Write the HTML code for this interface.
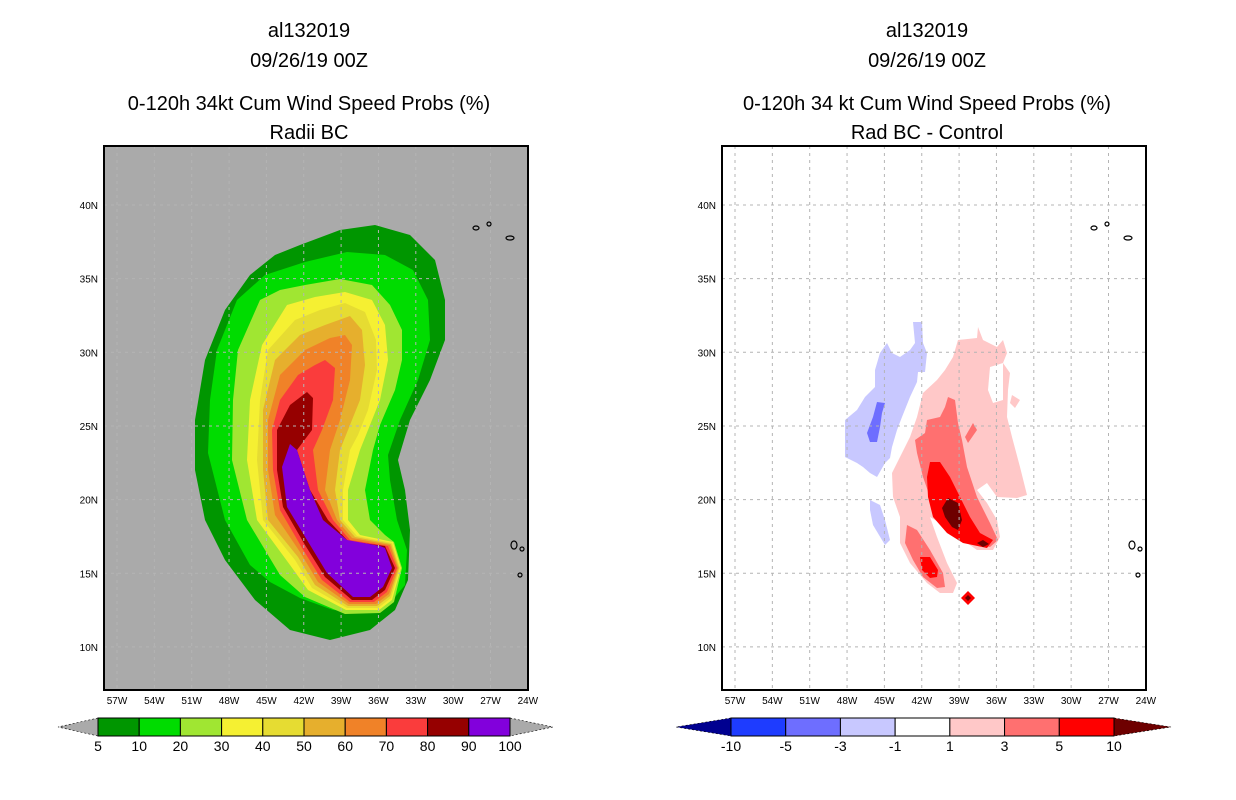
<!DOCTYPE html>
<html><head><meta charset="utf-8"><style>
body{margin:0;background:#fff;width:1236px;height:800px;overflow:hidden}
svg{display:block}
text{font-family:"Liberation Sans",sans-serif}
</style></head><body>
<svg id="s" width="1236" height="800" xmlns="http://www.w3.org/2000/svg">
<g font-size="20" text-anchor="middle" fill="#000">
<text x="309" y="37">al132019</text><text x="309" y="67">09/26/19 00Z</text>
<text x="309" y="110">0-120h 34kt Cum Wind Speed Probs (%)</text><text x="309" y="139">Radii BC</text></g>
<g font-size="20" text-anchor="middle" fill="#000">
<text x="927" y="37">al132019</text><text x="927" y="67">09/26/19 00Z</text>
<text x="927" y="110">0-120h 34 kt Cum Wind Speed Probs (%)</text><text x="927" y="139">Rad BC - Control</text></g>
<rect x="104" y="146" width="424" height="544" fill="#aaaaaa"/>
<rect x="722" y="146" width="424" height="544" fill="#fff"/>
<g id="lc"></g>
<g id="rc"></g>
<g id="grid"></g>
<g id="coast" fill="none" stroke="#000" stroke-width="1.2"></g>
<rect x="104" y="146" width="424" height="544" fill="none" stroke="#000" stroke-width="2"/>
<rect x="722" y="146" width="424" height="544" fill="none" stroke="#000" stroke-width="2"/>
<g id="ticks" font-size="10" fill="#000"></g>
<g id="cb"></g>
</svg>
<script>
const lonTicks=[57,54,51,48,45,42,39,36,33,30,27,24];
const latTicks=[40,35,30,25,20,15,10];
const leftLevels=[5,10,20,30,40,50,60,70,80,90,100];
const leftColors=["#009600","#00dc00","#a0e632","#f5f032","#e6dc32","#e6af2d","#f08228","#fa3c3c","#960000","#8200dc"];
const rightLevels=[-10,-5,-3,-1,1,3,5,10];
const rightColors=["#1e3cff","#6e6eff","#c8c8ff","#ffffff","#ffc8c8","#ff7070","#ff0000"];
const NS="http://www.w3.org/2000/svg";
function X(w,off){return 117+(57-w)*12.45+off;}
function Y(n){return 205+(40-n)*14.73;}
function mk(t,a,p){const e=document.createElementNS(NS,t);for(const k in a)e.setAttribute(k,a[k]);p.appendChild(e);return e;}
const leftShapes=[
"300,245 340,230 375,225 410,235 435,260 445,300 445,340 430,380 410,420 398,460 405,490 410,530 408,580 395,610 370,630 330,640 290,630 255,600 225,560 205,520 195,470 195,420 205,360 225,310 250,275 275,255",
"305,262 347,252 385,255 413,270 428,300 430,340 418,380 400,420 388,455 390,480 397,520 407,550 405,585 390,603 360,612 333,610 300,598 270,582 250,565 225,520 208,453 210,400 217,350 237,300 265,275",
"305,285 340,279 372,285 390,305 402,330 402,360 395,390 380,425 373,450 365,490 370,520 385,535 394,542 402,568 394,602 380,613 345,614 305,597 280,575 247,520 232,460 233,400 238,350 260,300 280,290",
"315,297 345,292 372,300 385,325 388,360 380,400 368,430 360,450 348,490 348,520 360,535 393,542 401,568 392,600 379,610 346,610 308,590 290,565 257,520 247,460 250,400 262,345 287,305",
"320,310 345,303 365,312 376,340 377,370 368,410 358,435 350,450 343,490 343,520 357,536 392,543 400,568 391,598 378,608 347,608 312,588 295,560 263,520 257,460 260,400 268,350 295,320",
"325,325 350,316 362,330 365,365 360,400 350,425 340,450 335,490 340,520 355,537 391,544 399,568 390,596 377,606 348,606 315,585 298,557 268,520 263,470 263,410 275,360 300,335",
"330,338 345,335 352,345 350,380 340,420 330,450 325,490 337,520 352,538 390,545 398,568 389,594 376,604 349,604 318,582 300,552 275,515 268,470 268,420 280,375 305,350",
"315,365 325,360 335,368 333,400 322,430 313,450 318,490 333,520 350,540 388,546 397,568 387,592 374,602 350,602 322,580 302,548 280,510 273,470 272,430 280,400 298,375",
"307,392 313,398 312,430 297,450 310,490 328,520 348,541 385,546 395,568 385,590 372,600 352,600 325,577 305,545 283,507 277,470 277,430 290,405",
"290,444 297,450 310,490 323,520 347,540 380,546 385,548 392,568 383,587 370,597 353,597 327,573 307,540 287,507 282,467"];
const lc=document.getElementById('lc');
leftShapes.forEach((p,i)=>{const e=mk('polygon',{points:p,fill:leftColors[i]},lc);

});
const rc=document.getElementById('rc');
const rightShapes=[
["#c8c8ff","913,322 922,322 923,343 927,353 925,372 918,372 917,382 910,397 902,417 897,430 892,447 890,458 885,463 877,477 870,473 863,467 857,463 845,457 845,437 845,420 857,410 865,397 875,387 875,370 880,353 887,343 892,353 900,357 910,350 915,343"],
["#c8c8ff","870,500 880,505 885,520 890,540 885,545 873,525 870,510"],
["#c8c8ff","858,447 861,444 862,452 858,452"],
["#6e6eff","877,402 885,403 882,413 880,427 877,442 870,442 867,433 873,417"],
["#ffc8c8","958,340 977,338 978,327 983,340 997,347 1003,340 1007,353 1003,363 1010,373 1008,390 1007,417 1012,437 1020,467 1027,495 1017,498 997,497 987,483 977,490 987,503 997,520 1000,537 993,550 977,550 967,543 953,530 940,523 930,517 937,537 947,563 957,583 953,593 940,593 927,583 910,563 900,543 900,517 893,497 892,473 900,457 910,437 917,417 923,393 937,380 945,370 953,357"],
["#ffffff","990,367 1003,363 1003,400 993,403 988,390"],
["#ffc8c8","1012,395 1020,400 1015,408 1010,403"],
["#ff7070","948,397 955,400 958,423 962,440 967,467 977,497 990,523 998,540 990,547 977,545 960,537 940,517 930,497 923,477 917,453 915,440 925,433 927,420 940,417 945,407"],
["#ff7070","973,423 977,430 968,443 965,437"],
["#ff7070","907,525 917,530 930,550 943,573 945,587 937,588 923,577 913,560 905,543"],
["#ff0000","930,462 940,462 950,477 960,497 970,517 980,533 993,540 987,548 963,543 947,533 933,517 928,497 927,477"],
["#ff0000","920,557 930,557 938,570 937,577 930,578 922,570"],
["#ff0000","968,591 975,598 968,605 961,598"],
["#6e0000","948,498 958,503 962,520 958,530 952,527 945,517 942,508"],
["#6e0000","977,543 983,540 989,544 983,547"],
["#6e0000","968,595 971,598 968,601 965,598"]];
rightShapes.forEach(([c,p],i)=>{const e=mk('polygon',{points:p,fill:c},rc);

});
const g=document.getElementById('grid'),tk=document.getElementById('ticks');
[0,618].forEach(off=>{
 lonTicks.forEach(w=>{const x=X(w,off);
  if(x<104+off+424-2){const l=mk('line',{x1:x,x2:x,y1:146,y2:690,stroke:'#b4b4b4','stroke-dasharray':'3,4','stroke-width':1},g);
  }
  const t=mk('text',{x:x,y:704,'text-anchor':'middle'},tk);t.textContent=w+'W';
  });
 latTicks.forEach(n=>{const y=Y(n);
  const l=mk('line',{x1:104+off,x2:528+off,y1:y,y2:y,stroke:'#b4b4b4','stroke-dasharray':'3,4','stroke-width':1},g);
  
  const t=mk('text',{x:98+off,y:y+4,'text-anchor':'end'},tk);t.textContent=n+'N';
  });
});
const co=document.getElementById('coast');
[0,618].forEach(off=>{
 [[476,228,3,2],[489,224,2,2],[510,238,4,2],[514,545,3,4],[522,549,2,2],[520,575,2,2]].forEach(([x,y,rx,ry])=>{
  const e=mk('ellipse',{cx:x+off,cy:y,rx:rx,ry:ry},co);
  });
});
const cb=document.getElementById('cb');
function bar(x0,x1,levels,colors,lt,rt,tl,tr){
 const n=colors.length,w=(x1-x0)/n,y0=718,h=18;
 const a=mk('polygon',{points:`${x0},${y0} ${tl},${y0+h/2} ${x0},${y0+h}`,fill:lt,stroke:'#000','stroke-dasharray':'2,2','stroke-width':0.6},cb);
 
 const b=mk('polygon',{points:`${x1},${y0} ${tr},${y0+h/2} ${x1},${y0+h}`,fill:rt,stroke:'#000','stroke-dasharray':'2,2','stroke-width':0.6},cb);
 
 colors.forEach((c,i)=>{const r=mk('rect',{x:x0+i*w,y:y0,width:w,height:h,fill:c,stroke:'#000','stroke-width':1},cb);
  });
 levels.forEach((v,i)=>{const t=mk('text',{x:x0+i*w,y:751,'text-anchor':'middle','font-size':14},cb);t.textContent=v;
  });
}
bar(98,510,leftLevels,leftColors,'#aaaaaa','#aaaaaa',58,553);
bar(731,1114,rightLevels,rightColors,'#000090','#6e0000',676,1171);
</script>
</body></html>
